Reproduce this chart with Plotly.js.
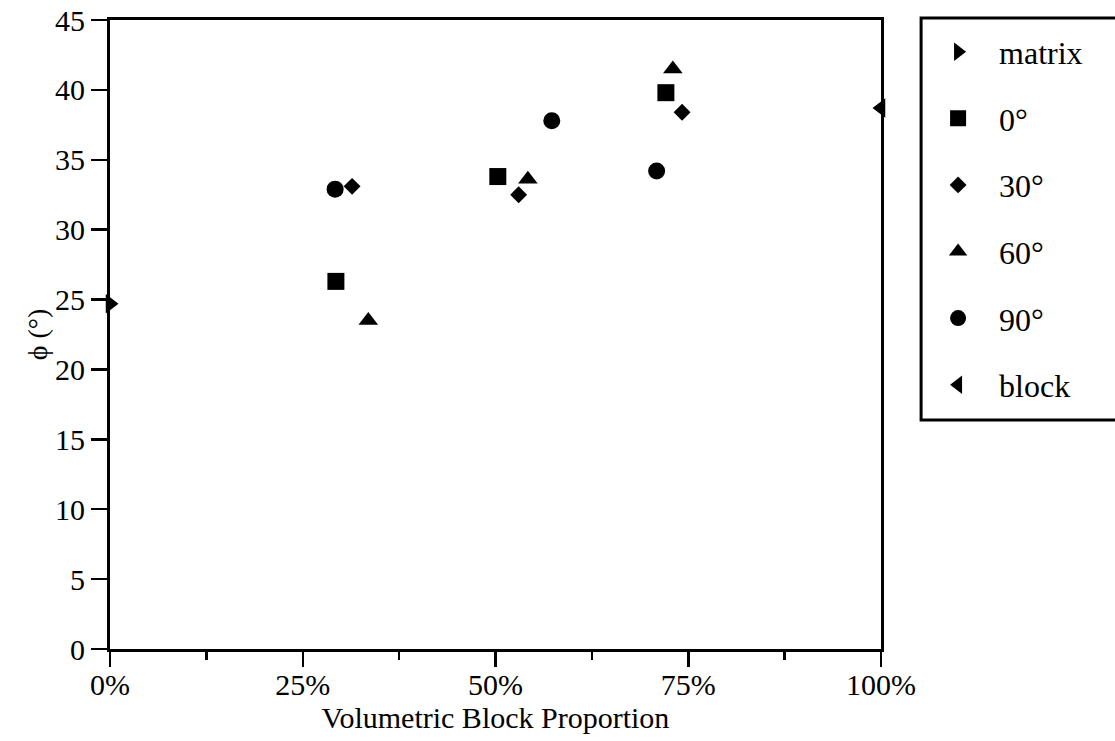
<!DOCTYPE html>
<html><head><meta charset="utf-8">
<script src="https://cdn.plot.ly/plotly-3.0.1.min.js"></script>
<style>html,body{margin:0;padding:0;background:#fff}#chart{width:1115px;height:741px}</style>
</head><body><div id="chart"></div>
<script>
// Data (x = volumetric block proportion, y = phi in degrees)
const seriesNames = ["matrix", "0°", "30°", "60°", "90°", "block"];
const matrixX = [0.0];   const matrixY = [24.7];
const deg0X  = [0.293, 0.503, 0.721];  const deg0Y  = [26.3, 33.8, 39.8];
const deg30X = [0.314, 0.530, 0.742];  const deg30Y = [33.1, 32.5, 38.4];
const deg60X = [0.335, 0.542, 0.730];  const deg60Y = [23.5, 33.6, 41.5];
const deg90X = [0.292, 0.573, 0.709];  const deg90Y = [32.9, 37.8, 34.2];
const blockX = [1.0];    const blockY = [38.7];
const xTickVals = [0, 0.25, 0.5, 0.75, 1];
const xTickText = ["0%", "25%", "50%", "75%", "100%"];
const yTickVals = [0, 5, 10, 15, 20, 25, 30, 35, 40, 45];

const F = "Liberation Serif, Times New Roman, serif";
function tr(name, x, y, symbol, size, i) {
  return {x: x, y: y, name: name, type: "scatter", mode: "markers", legendgroup: "g" + i,
    cliponaxis: false, marker: {symbol: symbol, size: size, color: "#000"}};
}
const data = [
  tr(seriesNames[0], matrixX, matrixY, "triangle-right", 17, 0),
  tr(seriesNames[1], deg0X, deg0Y, "square", 17, 1),
  tr(seriesNames[2], deg30X, deg30Y, "diamond", 13, 2),
  tr(seriesNames[3], deg60X, deg60Y, "triangle-up", 17, 3),
  tr(seriesNames[4], deg90X, deg90Y, "circle", 17, 4),
  tr(seriesNames[5], blockX, blockY, "triangle-left", 17, 5)
];
const layout = {
  width: 1115, height: 741,
  margin: {l: 110, r: 234, t: 20, b: 92},
  paper_bgcolor: "#fff", plot_bgcolor: "#fff",
  font: {family: F, color: "#000", size: 30},
  showlegend: true,
  legend: {x: 1.052, y: 0.993, xanchor: "left", yanchor: "top",
    borderwidth: 0, bgcolor: "rgba(0,0,0,0)", maxheight: 700,
    font: {family: F, size: 32, color: "#000"},
    traceorder: "grouped", tracegroupgap: 22,
    itemwidth: 72, indentation: -4},
  shapes: [{type: "rect", xref: "paper", yref: "paper",
    x0: 1.052, x1: 1.32, y0: 0.364, y1: 1.003,
    line: {color: "#000", width: 3}, fillcolor: "rgba(0,0,0,0)"}],
  xaxis: {range: [0, 1], tickvals: xTickVals, ticktext: xTickText,
    ticks: "outside", ticklen: 15, tickwidth: 2.5, tickcolor: "#000",
    ticklabelstandoff: -8,
    minor: {tickvals: [0.125, 0.375, 0.625, 0.875], ticks: "outside", ticklen: 8, tickwidth: 2.5, tickcolor: "#000", showgrid: false},
    showline: true, linecolor: "#000", linewidth: 3, mirror: true,
    showgrid: false, zeroline: false,
    tickfont: {family: F, size: 30, color: "#000"},
    title: {text: "Volumetric Block Proportion", font: {family: F, size: 30, color: "#000"}, standoff: 6}},
  yaxis: {range: [0, 45], tickvals: yTickVals,
    ticks: "outside", ticklen: 16, tickwidth: 2.5, tickcolor: "#000",
    showline: true, linecolor: "#000", linewidth: 3, mirror: true,
    showgrid: false, zeroline: false,
    tickfont: {family: F, size: 30, color: "#000"},
    title: {text: "ϕ (°)", font: {family: F, size: 28, color: "#000"}, standoff: 0}}
};
Plotly.newPlot("chart", data, layout, {displayModeBar: false, staticPlot: true});
</script></body></html>
